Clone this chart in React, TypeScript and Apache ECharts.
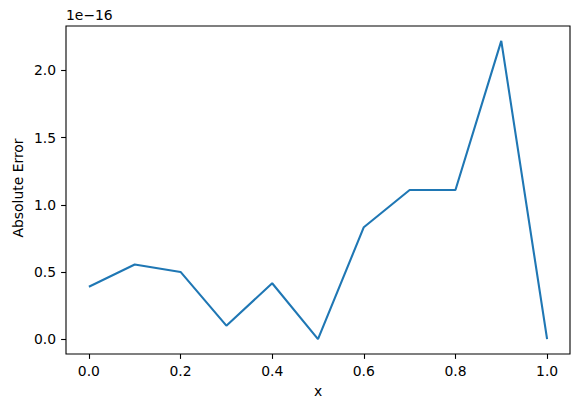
import React, { useEffect, useRef } from "react";
import * as echarts from "echarts";

// x positions
const xValues = [0.0, 0.1, 0.2, 0.3, 0.4, 0.5, 0.6, 0.7, 0.8, 0.9, 1.0];
// absolute error, in units of 1e-16
const errorValues = [0.39, 0.555, 0.5, 0.10, 0.416, 0.0, 0.833, 1.11, 1.11, 2.22, 0.0];
const xTicks = [0.0, 0.2, 0.4, 0.6, 0.8, 1.0];
const yTicks = [0.0, 0.5, 1.0, 1.5, 2.0];
const offsetText = "1e\u221216";
const xLabel = "x";
const yLabel = "Absolute Error";

const FONT = "DejaVu Sans";
const FS = 13.9;

export default function App() {
  const ref = useRef<HTMLDivElement>(null);
  useEffect(() => {
    document.body.style.margin = "0";
    const chart = echarts.init(ref.current!, null, { renderer: "svg" });
    const data = xValues.map((x, i) => [x, errorValues[i]]);
    const yMax = Math.max(...errorValues);
    const yMin = Math.min(...errorValues);
    const pad = (yMax - yMin) * 0.05;
    chart.setOption({
      animation: false,
      backgroundColor: "#fff",
      grid: {
        left: 66,
        right: 11,
        top: 26,
        bottom: 57,
        show: true,
        borderColor: "#000",
        borderWidth: 1.1,
        backgroundColor: "transparent",
      },
      xAxis: {
        type: "value",
        min: -0.05,
        max: 1.05,
        axisLine: { show: false, onZero: false },
        splitLine: { show: false },
        axisTick: {
          show: true,
          inside: false,
          customValues: xTicks,
          length: 4.9,
          lineStyle: { color: "#000", width: 1.1 },
        },
        axisLabel: {
          customValues: xTicks,
          formatter: (v: number) => v.toFixed(1),
          color: "#000",
          fontFamily: FONT,
          fontSize: FS,
          margin: 10,
        },
      },
      yAxis: {
        type: "value",
        min: yMin - pad,
        max: yMax + pad,
        axisLine: { show: false, onZero: false },
        splitLine: { show: false },
        axisTick: {
          show: true,
          inside: false,
          customValues: yTicks,
          length: 4.9,
          lineStyle: { color: "#000", width: 1.1 },
        },
        axisLabel: {
          customValues: yTicks,
          formatter: (v: number) => v.toFixed(1),
          color: "#000",
          fontFamily: FONT,
          fontSize: FS,
          margin: 10,
        },
      },
      graphic: [
        {
          type: "text",
          left: 66,
          top: 8,
          style: { text: offsetText, fill: "#000", font: `${FS}px '${FONT}'` },
        },
        {
          type: "text",
          x: 318,
          y: 391,
          style: {
            text: xLabel,
            fill: "#000",
            font: `${FS}px '${FONT}'`,
            align: "center",
            verticalAlign: "middle",
          },
        },
        {
          type: "text",
          x: 18,
          y: 188,
          rotation: Math.PI / 2,
          style: {
            text: yLabel,
            fill: "#000",
            font: `${FS}px '${FONT}'`,
            align: "center",
            verticalAlign: "middle",
          },
        },
      ],
      series: [
        {
          type: "line",
          data,
          showSymbol: false,
          symbol: "none",
          lineStyle: { color: "#1f77b4", width: 2.1 },
        },
      ],
    });
    return () => chart.dispose();
  }, []);
  return <div ref={ref} style={{ width: 581, height: 411 }} />;
}
